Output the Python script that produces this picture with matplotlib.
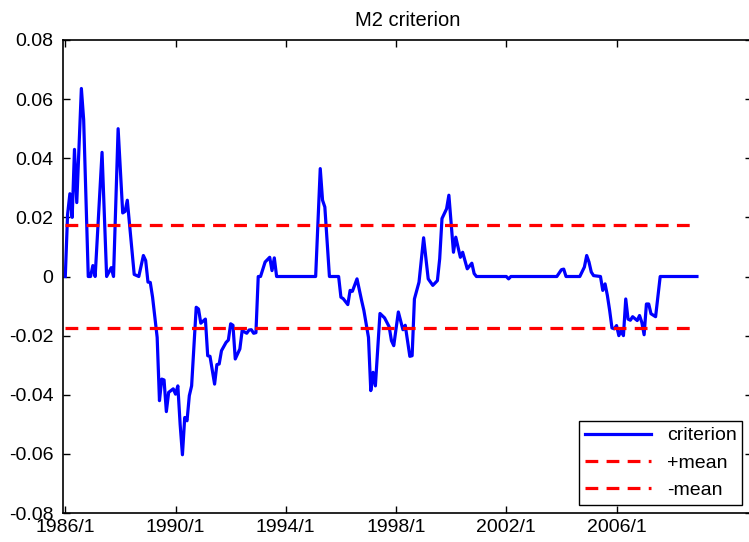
import matplotlib
matplotlib.use('Agg')
import matplotlib.pyplot as plt
import numpy as np

plt.rcParams['font.family'] = ['Liberation Sans', 'DejaVu Sans']

# month index (1 = 1986/1) and criterion value at the line's vertices
month = [1, 2, 3, 4, 5, 6, 8, 9, 11, 12, 13, 14, 17, 19, 21, 22, 24, 26, 27, 28,
         31, 33, 35, 36, 37, 38, 39, 41, 42, 43, 44, 45, 46, 48, 49, 50, 51, 52, 53, 54,
         55, 56, 58, 59, 60, 62, 63, 64, 66, 67, 68, 69, 71, 72, 73, 74, 75, 77, 78, 80,
         81, 82, 83, 84, 85, 86, 88, 90, 91, 92, 93, 110, 112, 113, 114, 116, 120, 121, 122, 124,
         125, 126, 128, 130, 131, 133, 134, 135, 136, 138, 140, 142, 143, 144, 146, 148, 149, 151, 152, 153,
         154, 155, 157, 159, 161, 163, 164, 165, 167, 168, 170, 171, 173, 174, 175, 176, 178, 179, 180, 193,
         194, 195, 215, 217, 218, 219, 225, 227, 228, 229, 230, 231, 234, 235, 236, 237, 238, 239, 240, 241,
         242, 243, 244, 245, 246, 247, 248, 250, 251, 252, 253, 254, 255, 256, 258, 260, 276]
criterion = [0, 0.021, 0.028, 0.020, 0.043, 0.025, 0.0636, 0.053, 0, 0, 0.0037, 0, 0.042, 0, 0.003, 0, 0.050, 0.0215, 0.022, 0.0258,
             0.0007, 0, 0.0071, 0.0054, -0.0019, -0.002, -0.007, -0.0206, -0.042, -0.0347, -0.035, -0.0457, -0.0392, -0.038, -0.0398, -0.037, -0.050, -0.0603, -0.0477, -0.0488,
             -0.0403, -0.037, -0.0104, -0.011, -0.0158, -0.0144, -0.0268, -0.027, -0.0364, -0.0298, -0.0296, -0.0251, -0.0223, -0.0215, -0.016, -0.0165, -0.0279, -0.0245, -0.0183, -0.0192,
             -0.0181, -0.018, -0.0192, -0.019, 0, 0, 0.0049, 0.0065, 0.002, 0.0063, 0, 0, 0.0365, 0.0258, 0.0235, 0, 0, -0.007, -0.0075, -0.0095,
             -0.0047, -0.005, -0.0008, -0.0081, -0.0115, -0.0206, -0.0386, -0.0324, -0.037, -0.0125, -0.014, -0.017, -0.0217, -0.0234, -0.012, -0.018, -0.0165, -0.027, -0.0268, -0.0076,
             -0.0047, -0.0019, 0.0131, -0.0008, -0.003, -0.0014, 0.006, 0.0196, 0.0229, 0.0275, 0.0082, 0.0133, 0.0065, 0.0082, 0.0054, 0.0026, 0.0045, 0.001, 0, 0,
             -0.0008, 0, 0, 0.0023, 0.0025, 0, 0, 0.0032, 0.0071, 0.0049, 0.0015, 0.0003, 0, -0.0047, -0.0025, -0.0064, -0.0115, -0.0174, -0.0177, -0.0166,
             -0.020, -0.0183, -0.020, -0.0076, -0.0144, -0.0148, -0.0136, -0.0149, -0.0132, -0.0155, -0.0197, -0.0093, -0.0093, -0.0126, -0.0136, 0, 0]
mean_level = 0.0175

tick_months = [1, 49, 97, 145, 193, 241]
tick_labels = ['1986/1', '1990/1', '1994/1', '1998/1', '2002/1', '2006/1']

fig = plt.figure(figsize=(7.49, 5.42), dpi=100)
ax = fig.add_axes([0.0841, 0.0535, 0.920, 0.8727])

ax.plot(month, criterion, color='#0000ff', lw=2.3, label='criterion')
ax.plot([1, 276], [mean_level, mean_level], color='#ff0000', lw=2.3, ls=(0, (4, 2.6)), label='+mean')
ax.plot([1, 276], [-mean_level, -mean_level], color='#ff0000', lw=2.3, ls=(0, (4, 2.6)), label='-mean')

ax.set_xlim(0, 300)
ax.set_ylim(-0.08, 0.08)
ax.set_xticks(tick_months)
ax.set_xticklabels(tick_labels)
ax.set_yticks(np.arange(-0.08, 0.081, 0.02))
ax.set_yticklabels(['-0.08', '-0.06', '-0.04', '-0.02', '0', '0.02', '0.04', '0.06', '0.08'])
ax.tick_params(direction='in', top=True, right=True, length=5, width=1, labelsize=14)
ax.tick_params(axis='y', pad=7)
ax.tick_params(axis='x', pad=4)
for s in ax.spines.values():
    s.set_linewidth(1.2)

ax.set_title('M2 criterion', fontsize=14.5, pad=10)

leg = ax.legend(loc='lower right', bbox_to_anchor=(0.986, 0.017), fontsize=14, fancybox=False,
                edgecolor='black', framealpha=1, handlelength=3.4, borderpad=0.3,
                labelspacing=0.5, handletextpad=0.8, borderaxespad=0)
leg.get_frame().set_linewidth(1.0)

fig.savefig('out.png', dpi=100)
